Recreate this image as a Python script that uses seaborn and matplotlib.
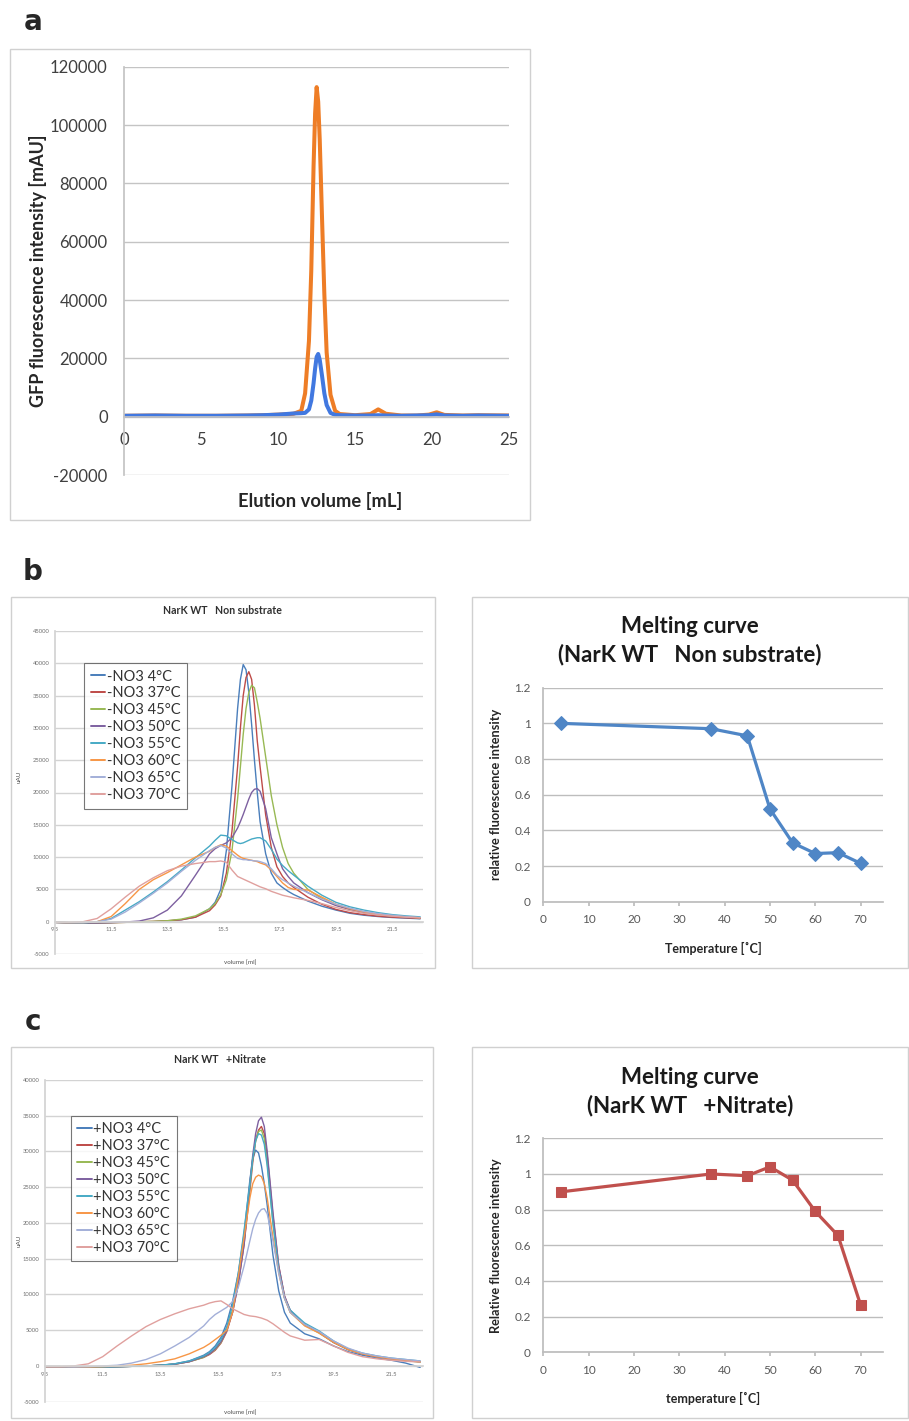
import matplotlib
matplotlib.use("Agg")
import matplotlib.pyplot as plt
from matplotlib.patches import Rectangle
import seaborn as sns

# ---------------------------------------------------------------------------
# Data
# ---------------------------------------------------------------------------
# panel a: FSEC trace, GFP fluorescence vs elution volume
vol_a = [0, 2, 4, 6, 8, 9, 10, 10.5, 11, 11.5, 11.75, 12.0, 12.15, 12.3, 12.4,
         12.5, 12.6, 12.7, 12.85, 13.0, 13.15, 13.4, 13.7, 14.0, 15.0, 16.0,
         16.5, 17.0, 18.0, 19.0, 19.8, 20.3, 20.8, 22.0, 23.0, 25.0]
gfp_orange = [300, 400, 300, 300, 400, 500, 700, 800, 1000, 2000, 8000, 26000,
              50000, 86000, 104000, 113000, 108000, 95000, 68000, 42000, 22000,
              7500, 2000, 900, 500, 900, 2500, 1000, 400, 400, 700, 1500, 600,
              400, 500, 400]
gfp_blue = [300, 400, 300, 300, 400, 500, 700, 900, 1100, 1200, 1300, 2500,
            5500, 11500, 16500, 20500, 21500, 19500, 14000, 8000, 4000, 1300,
            600, 500, 400, 400, 500, 400, 300, 400, 500, 800, 400, 300, 400, 300]

# panel b / c left: FSEC traces after heating
vol_b = [9.5, 10.0, 10.5, 11.0, 11.5, 12.0, 12.5, 13.0, 13.5, 14.0,
         14.5, 15.0, 15.2, 15.4, 15.6, 15.8, 16.0, 16.1, 16.2, 16.3,
         16.4, 16.5, 16.6, 16.7, 16.8, 17.0, 17.2, 17.4, 17.6, 17.8,
         18.0, 18.5, 19.0, 19.5, 20.0, 20.5, 21.0, 21.5, 22.0, 22.5]
b_4 = [-100, -150, -200, -150, -100, -50, 0, 0, 100, 300,
       700, 2000, 3000, 5000, 11000, 21000, 33000, 37500, 39800, 39000,
       35500, 30500, 25000, 20000, 15500, 10500, 7500, 6000, 5300, 4700,
       4200, 3200, 2400, 1800, 1300, 1000, 800, 650, 550, 450]
b_37 = [-100, -150, -200, -200, -150, -100, 0, 50, 150, 300,
        700, 1700, 2600, 4000, 7500, 14000, 24000, 30000, 35000, 37800,
        38700, 37500, 33500, 28000, 24000, 16500, 11500, 8500, 7000, 6000,
        5300, 3800, 2700, 1900, 1400, 1100, 850, 700, 600, 500]
b_45 = [-100, -150, -200, -200, -150, -100, 0, 50, 150, 400,
        900, 2000, 2800, 4200, 6500, 11000, 19000, 24000, 29000, 33000,
        35500, 36600, 36200, 34000, 31500, 25500, 19500, 15000, 11500, 9000,
        7500, 5000, 3600, 2600, 1900, 1400, 1100, 900, 750, 600]
b_50 = [-100, -150, -200, -200, -150, -50, 100, 600, 1800, 4000,
        7200, 10500, 11300, 11800, 12200, 13000, 14500, 15500, 16600, 17800,
        19000, 20000, 20500, 20600, 20200, 17500, 13000, 10500, 8200, 7000,
        6000, 4500, 3400, 2500, 1900, 1400, 1100, 900, 750, 600]
b_55 = [-100, -150, -200, 0, 500, 1800, 3100, 4600, 6200, 8000,
        9900, 11700, 12600, 13400, 13300, 12700, 12200, 12100, 12200, 12400,
        12600, 12800, 12900, 13000, 13000, 12500, 11200, 9700, 8700, 7900,
        7200, 5500, 4100, 3000, 2300, 1800, 1400, 1100, 900, 750]
b_60 = [-100, -150, -150, 0, 800, 2800, 5000, 6500, 7600, 8800,
        10000, 10900, 11500, 11900, 11700, 11000, 10300, 10000, 9800, 9700,
        9600, 9500, 9400, 9300, 9100, 8800, 8000, 7000, 6000, 5300,
        5000, 4900, 3800, 2700, 2000, 1500, 1150, 900, 750, 600]
b_65 = [-100, -150, -150, 0, 400, 1500, 2900, 4400, 6000, 7800,
        9500, 11000, 11500, 11800, 11400, 10500, 9800, 9700, 9600, 9600,
        9500, 9500, 9400, 9400, 9300, 9000, 8200, 7200, 6500, 6000,
        5500, 4500, 3500, 2700, 2100, 1600, 1250, 1000, 800, 650]
b_70 = [-100, -100, 0, 500, 2000, 3800, 5500, 6800, 7900, 8600,
        9000, 9300, 9300, 9400, 9200, 8000, 7000, 6800, 6600, 6400,
        6200, 6000, 5800, 5600, 5400, 5100, 4700, 4400, 4100, 3900,
        3700, 3300, 2800, 2200, 1700, 1300, 1050, 850, 700, 600]

vol_c = [9.5, 10.0, 10.5, 11.0, 11.5, 12.0, 12.5, 13.0, 13.5, 14.0,
         14.5, 15.0, 15.2, 15.4, 15.6, 15.8, 16.0, 16.2, 16.4, 16.6,
         16.7, 16.8, 16.9, 17.0, 17.1, 17.2, 17.4, 17.6, 17.8, 18.0,
         18.5, 19.0, 19.5, 20.0, 20.5, 21.0, 21.5, 22.0, 22.5]
c_4 = [-100, -100, -150, -150, -150, -100, -50, 0, 100, 300,
       700, 1500, 2000, 2800, 4000, 6000, 9000, 13000, 18500, 26000,
       29000, 30200, 29800, 28000, 25500, 22500, 15500, 10500, 7500, 6000,
       4500, 3800, 2800, 2000, 1500, 1100, 800, 400, -200]
c_37 = [-100, -100, -150, -150, -150, -100, -50, 0, 100, 250,
        600, 1200, 1600, 2200, 3200, 4800, 7500, 11500, 17000, 24500,
        28500, 31500, 33000, 33500, 32500, 29500, 21000, 14000, 9800, 7600,
        5800, 4700, 3300, 2300, 1700, 1300, 1000, 800, 600]
c_45 = [-100, -100, -150, -150, -150, -100, -50, 0, 100, 250,
        600, 1200, 1700, 2300, 3300, 5000, 7800, 12000, 17500, 25000,
        29000, 31500, 32800, 33000, 31800, 28500, 20000, 13500, 9500, 7500,
        5700, 4600, 3300, 2300, 1700, 1300, 1000, 800, 500]
c_50 = [-100, -100, -150, -150, -150, -100, -50, 0, 100, 250,
        600, 1300, 1700, 2400, 3400, 5000, 7500, 11500, 17000, 25500,
        29500, 32500, 34300, 34800, 33500, 30000, 21500, 14000, 9800, 7800,
        5800, 4700, 3300, 2300, 1700, 1300, 1000, 800, 600]
c_55 = [-100, -100, -150, -150, -150, -100, -50, 0, 100, 300,
        700, 1400, 1900, 2600, 3700, 5500, 8500, 13000, 19000, 25500,
        29000, 31500, 32500, 32300, 31000, 28000, 20000, 13500, 9500, 7800,
        6000, 4900, 3500, 2400, 1800, 1400, 1100, 900, 700]
c_60 = [-100, -100, -150, -150, -100, 0, 100, 300, 600, 1000,
        1700, 2600, 3100, 3700, 4300, 5000, 7500, 12500, 18000, 23500,
        25500, 26400, 26700, 26500, 25500, 23500, 18000, 13000, 9500, 7500,
        5600, 4600, 3300, 2300, 1700, 1300, 1000, 800, 600]
c_65 = [-100, -100, -150, -100, 0, 100, 400, 900, 1700, 2800,
        4000, 5600, 6500, 7200, 7700, 8200, 9000, 11000, 14000, 17500,
        19200, 20500, 21400, 21900, 22000, 21300, 17500, 13000, 9500, 7500,
        5800, 4800, 3500, 2500, 1800, 1400, 1100, 900, 700]
c_70 = [-100, -100, 0, 300, 1300, 2800, 4200, 5500, 6500, 7300,
        8000, 8500, 8800, 9000, 9100, 8600, 8000, 7600, 7200, 7000,
        6950, 6900, 6800, 6700, 6550, 6400, 5900, 5300, 4700, 4200,
        3600, 3700, 2800, 1900, 1300, 1000, 800, 650, 550]

temps_heat = ["4", "37", "45", "50", "55", "60", "65", "70"]
tick_vol = [9.5, 11.5, 13.5, 15.5, 17.5, 19.5, 21.5]

# panel b / c right: melting curves
temp = [4, 37, 45, 50, 55, 60, 65, 70]
rel_nosub = [1.0, 0.97, 0.93, 0.52, 0.33, 0.27, 0.275, 0.215]
rel_nitrate = [0.90, 1.00, 0.99, 1.04, 0.965, 0.79, 0.655, 0.265]

chrom_colors = ["#4A7EBB", "#BE4B48", "#98B954", "#7D60A0",
                "#46AAC5", "#F79646", "#A3AFD8", "#E0A09E"]

# ---------------------------------------------------------------------------
# Style
# ---------------------------------------------------------------------------
sns.set_theme(style="white")
plt.rcParams["font.family"] = ["Lato", "DejaVu Sans"]
plt.rcParams["axes.unicode_minus"] = False

W, H = 909, 1421
GRID = "#c4c4c4"


def fx(px):
    return px / W


def fy(py):
    return 1 - py / H


def box(l, t, r, b):
    return [l / W, 1 - b / H, (r - l) / W, (b - t) / H]


fig = plt.figure(figsize=(W / 100, H / 100), dpi=100)

for l, t, r, b in [(10, 49, 530, 520), (11, 597, 435, 968), (472, 597, 908, 968),
                   (11, 1047, 433, 1418), (472, 1047, 908, 1418)]:
    fig.patches.append(Rectangle((fx(l), fy(b)), (r - l) / W, (b - t) / H,
                                 transform=fig.transFigure, fill=False,
                                 edgecolor="#d0d0d0", lw=1))

for letter, y in [("a", 22), ("b", 572), ("c", 1022)]:
    fig.text(fx(33), fy(y), letter, fontsize=20, weight="bold",
             ha="center", va="center", family="DejaVu Sans")


def excel_axes(ax, grid_color=GRID):
    ax.grid(False)
    ax.yaxis.grid(True, color=grid_color, lw=1)
    ax.set_axisbelow(True)
    for s in ["top", "right"]:
        ax.spines[s].set_visible(False)
    ax.spines["left"].set_color(grid_color)
    ax.spines["bottom"].set_color(grid_color)
    ax.set_facecolor("none")


# ---------------------------------------------------------------------------
# a
# ---------------------------------------------------------------------------
ax = fig.add_axes(box(124.3, 66.7, 509, 475))
sns.lineplot(x=vol_a, y=gfp_orange, color="#EE7D26", lw=2.9, errorbar=None, ax=ax)
sns.lineplot(x=vol_a, y=gfp_blue, color="#4178E0", lw=2.9, errorbar=None, ax=ax)
ax.set_xlim(0, 25)
ax.set_ylim(-20000, 120000)
ax.set_yticks(range(-20000, 120001, 20000))
ax.set_xticks(range(0, 26, 5))
excel_axes(ax)
ax.spines["bottom"].set_position(("data", 0))
ax.tick_params(length=0, labelsize=12, labelcolor="#404040")
ax.tick_params(axis="x", pad=11)
ax.tick_params(axis="y", pad=12)
ax.set_ylabel("GFP fluorescence intensity [mAU]", fontsize=13,
              weight="bold", color="#262626")
ax.yaxis.set_label_coords(-0.2, 0.5)
ax.set_xlabel("Elution volume [mL]", fontsize=13.2, weight="bold", color="#262626")
ax.xaxis.set_label_coords(0.51, -0.042)


# ---------------------------------------------------------------------------
# b / c left chromatograms
# ---------------------------------------------------------------------------
def chromatogram(rect, vol, curves, prefix, ymax, title, title_x, leg_xy,
                 ylab_xy, xlab_xy):
    ax = fig.add_axes(box(*rect))
    for vals, t, col in zip(curves, temps_heat, chrom_colors):
        sns.lineplot(x=vol, y=vals, color=col, lw=1.0, errorbar=None,
                     label=f"{prefix}NO3 {t}\u00b0C", ax=ax)
    ax.set_xlim(9.5, 22.6)
    ax.set_ylim(-5000, ymax)
    ax.set_yticks(range(-5000, ymax + 1, 5000))
    ax.set_xticks(tick_vol)
    ax.set_xticklabels([f"{v:.1f}" for v in tick_vol])
    excel_axes(ax, "#d3d3d3")
    ax.spines["bottom"].set_position(("data", 0))
    ax.tick_params(length=0, labelsize=4.2, labelcolor="#707070")
    ax.tick_params(axis="x", pad=4)
    ax.tick_params(axis="y", pad=4)
    ax.set_ylabel("uAU", fontsize=4.5, color="#505050")
    ax.yaxis.set_label_coords(*ylab_xy)
    ax.set_xlabel("volume [ml]", fontsize=4.5, color="#505050")
    ax.xaxis.set_label_coords(*xlab_xy)
    ax.text(title_x, 1.065, title, transform=ax.transAxes,
            ha="center", va="center", fontsize=7.6, weight="bold", color="#303030")
    leg = ax.legend(loc="upper left", bbox_to_anchor=leg_xy, fontsize=10.5,
                    frameon=True, fancybox=False, handlelength=1.0,
                    handletextpad=0.1, borderpad=0.45, labelspacing=0.2,
                    borderaxespad=0)
    leg.get_frame().set_edgecolor("#555555")
    leg.get_frame().set_linewidth(0.8)
    for line in leg.get_lines():
        line.set_linewidth(1.4)
    for txt in leg.get_texts():
        txt.set_color("#333333")
    return ax


chromatogram((55, 631, 423, 954), vol_b,
             [b_4, b_37, b_45, b_50, b_55, b_60, b_65, b_70], "-", 45000,
             "NarK WT   Non substrate", 0.455, (0.079, 0.901),
             (-0.09, 0.55), (0.503, -0.02))
chromatogram((45, 1080, 423, 1401.7), vol_c,
             [c_4, c_37, c_45, c_50, c_55, c_60, c_65, c_70], "+", 40000,
             "NarK WT   +Nitrate", 0.463, (0.068, 0.889),
             (-0.062, 0.5), (0.516, -0.026))


# ---------------------------------------------------------------------------
# b / c right melting curves
# ---------------------------------------------------------------------------
def melting(rect, values, color, marker, title2, ylab, xlab, title_top):
    ax = fig.add_axes(box(*rect))
    sns.lineplot(x=temp, y=values, color=color, lw=2.3, marker=marker,
                 markersize=7.5, markeredgecolor=color, errorbar=None, ax=ax)
    ax.set_xlim(0, 75)
    ax.set_ylim(0, 1.2)
    ax.set_xticks(range(0, 71, 10))
    ax.set_yticks([0, 0.2, 0.4, 0.6, 0.8, 1.0, 1.2])
    ax.set_yticklabels(["0", "0.2", "0.4", "0.6", "0.8", "1", "1.2"])
    excel_axes(ax, "#bdbdbd")
    ax.tick_params(axis="y", length=0, labelsize=8.5, labelcolor="#595959", pad=9)
    ax.tick_params(axis="x", length=3, color="#bdbdbd", bottom=True,
                   labelsize=8.5, labelcolor="#595959", pad=6)
    ax.set_ylabel(ylab, fontsize=9.2, weight="bold", color="#262626")
    ax.yaxis.set_label_coords(-0.122, 0.5)
    ax.set_xlabel(xlab, fontsize=9, weight="bold", color="#262626")
    ax.xaxis.set_label_coords(0.5, -0.187)
    fig.text(fx(690), fy(title_top), "Melting curve", ha="center", va="center",
             fontsize=16, weight="bold", color="#1a1a1a")
    fig.text(fx(690), fy(title_top + 28.5), title2, ha="center", va="center",
             fontsize=16, weight="bold", color="#1a1a1a")
    return ax


melting((543.3, 687.7, 883.3, 901.7), rel_nosub, "#4F86C6", "D",
        "(NarK WT   Non substrate)", "relative fluorescence intensity",
        "Temperature [\u02daC]", 626.5)
melting((543.3, 1138.3, 883.3, 1352.3), rel_nitrate, "#C0504D", "s",
        "(NarK WT   +Nitrate)", "Relative fluorescence intensity",
        "temperature [\u02daC]", 1077)

fig.savefig("out.png", dpi=100)
